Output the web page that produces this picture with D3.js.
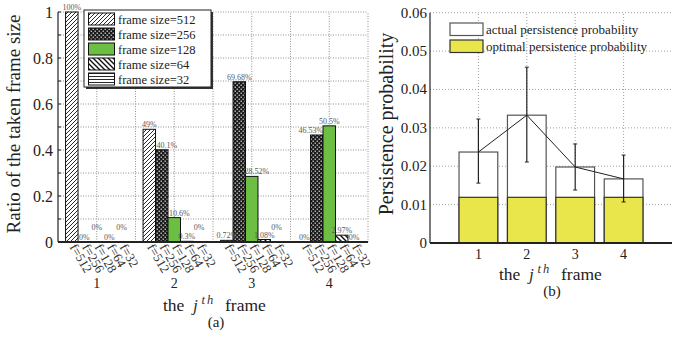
<!DOCTYPE html>
<html><head><meta charset="utf-8">
<script src="https://cdn.jsdelivr.net/npm/d3@7"></script>
<style>body{margin:0;background:#fff}svg{display:block}</style>
</head><body><svg id="c" width="683" height="337" font-family="'Liberation Serif', 'Times New Roman', serif"></svg>
<script>
// ---------- data, panel (a) ----------
const groups = [1, 2, 3, 4];
const sizes = ["512", "256", "128", "64", "32"];
const tickNames = ["f=512", "f=256", "f=128", "f=64", "f=32"];
const ratio512 = [1.00, 0.49, 0.0072, 0.00];
const ratio256 = [0.00, 0.401, 0.6968, 0.4653];
const ratio128 = [0.00, 0.106, 0.2852, 0.505];
const ratio64  = [0.00, 0.003, 0.0108, 0.0297];
const ratio32  = [0.00, 0.00, 0.00, 0.00];
const ratioLabels = [
  ["100%", "0%", "0%", "0%", "0%"],
  ["49%", "40.1%", "10.6%", "0.3%", "0%"],
  ["0.72%", "69.68%", "28.52%", "1.08%", "0%"],
  ["0%", "46.53%", "50.5%", "2.97%", "0%"]
];
const yTicksA = [0, 0.2, 0.4, 0.6, 0.8, 1];
// ---------- data, panel (b) ----------
const frames = [1, 2, 3, 4];
const actualProb = [0.0237, 0.0333, 0.0198, 0.0167];
const optimalProb = [0.0119, 0.0119, 0.0119, 0.0119];
const errLow = [0.0156, 0.0211, 0.0138, 0.0107];
const errHigh = [0.0323, 0.0458, 0.0258, 0.0229];
const yTicksB = [0, 0.01, 0.02, 0.03, 0.04, 0.05, 0.06];

const svg = d3.select("#c");
const defs = svg.append("defs");
function pat(id, w, h, draw) {
  const p = defs.append("pattern").attr("id", id).attr("patternUnits", "userSpaceOnUse")
    .attr("width", w).attr("height", h);
  p.append("rect").attr("width", w).attr("height", h).attr("fill", "#fff");
  draw(p);
}
pat("p512", 4, 4, p => {
  p.append("path").attr("d", "M-1,1 L1,-1 M0,4 L4,0 M3,5 L5,3").attr("stroke", "#111").attr("stroke-width", 0.9);
});
pat("p256", 4, 4, p => {
  p.append("rect").attr("width", 4).attr("height", 4).attr("fill", "#1a1a1a");
  p.append("rect").attr("x", 0.6).attr("y", 0.6).attr("width", 1.2).attr("height", 1.2).attr("fill", "#fff");
  p.append("rect").attr("x", 2.6).attr("y", 2.6).attr("width", 1.2).attr("height", 1.2).attr("fill", "#fff");
});
pat("p64", 5, 5, p => {
  p.append("path").attr("d", "M-1,4 L1,6 M0,0 L5,5 M4,-1 L6,1").attr("stroke", "#111").attr("stroke-width", 1.4);
});
pat("p32", 4, 3, p => {
  p.append("path").attr("d", "M0,1.5 L4,1.5").attr("stroke", "#111").attr("stroke-width", 0.9);
});
const fills = ["url(#p512)", "url(#p256)", "#6cbf42", "url(#p64)", "url(#p32)"];
const seriesA = [ratio512, ratio256, ratio128, ratio64, ratio32];

// ---------- panel (a) ----------
const xA = d3.scaleLinear().domain([0.5, 4.5]).range([58, 368]);
const yA = d3.scaleLinear().domain([0, 1]).range([242, 12]);
const barU = 0.161;
const gA = svg.append("g");
gA.selectAll(".hg").data(d3.range(1, 11).map(d => d / 10)).join("line")
  .attr("x1", xA(0.5)).attr("x2", xA(4.5)).attr("y1", d => yA(d)).attr("y2", d => yA(d))
  .attr("stroke", "#777").attr("stroke-width", 0.8).attr("stroke-dasharray", "1,1.5");
gA.selectAll(".vg").data(d3.range(1, 9).map(d => 0.5 + d / 2)).join("line")
  .attr("x1", d => xA(d)).attr("x2", d => xA(d)).attr("y1", yA(0)).attr("y2", yA(1))
  .attr("stroke", "#777").attr("stroke-width", 0.8).attr("stroke-dasharray", "1,1.5");
const barDataA = [];
groups.forEach((g, gi) => sizes.forEach((s, si) => {
  barDataA.push({g, gi, si, v: seriesA[si][gi], lab: ratioLabels[gi][si],
    prev: si > 0 ? seriesA[si - 1][gi] : 1, next: si < 4 ? seriesA[si + 1][gi] : 0});
}));
const bx = d => xA(d.g + (d.si - 2.5) * barU);
gA.selectAll(".bar").data(barDataA.filter(d => d.v > 0)).join("rect")
  .attr("x", bx).attr("width", xA(barU) - xA(0)).attr("y", d => yA(d.v)).attr("height", d => yA(0) - yA(d.v))
  .attr("fill", d => fills[d.si]).attr("stroke", "#111").attr("stroke-width", 1);
gA.selectAll(".vl").data(barDataA).join("text")
  .attr("x", d => {
    let dx = 0;
    if (d.v > 0.05 && d.si > 0 && d.prev > d.v) dx = 5;
    else if (d.v > 0.05 && d.next > d.v) dx = -6;
    return xA(d.g + (d.si - 2) * barU) + dx;
  })
  .attr("y", d => {
    const small = d.v < 0.05;
    const raise = small && d.si % 2 === 0 && d.si > 0 && d.prev < 0.02;
    return yA(d.v) - (raise ? 12.5 : 2);
  })
  .attr("text-anchor", "middle").attr("font-size", 8).attr("fill", "#5a5a5a").text(d => d.lab);
gA.append("line").attr("x1", xA(0.5)).attr("x2", xA(4.5)).attr("y1", yA(0)).attr("y2", yA(0)).attr("stroke", "#222").attr("stroke-width", 2);
gA.append("line").attr("x1", xA(0.5)).attr("x2", xA(0.5)).attr("y1", yA(0)).attr("y2", yA(1)).attr("stroke", "#222").attr("stroke-width", 1.2);
gA.selectAll(".yt").data(d3.range(0, 11).map(d => d / 10)).join("line")
  .attr("x1", xA(0.5)).attr("x2", xA(0.5) + 3).attr("y1", d => yA(d)).attr("y2", d => yA(d)).attr("stroke", "#222");
gA.selectAll(".ytl").data(yTicksA).join("text")
  .attr("x", 53).attr("y", d => yA(d) + 5.5).attr("text-anchor", "end").attr("font-size", 16).attr("fill", "#222")
  .text(d => d3.format("")(d));
const tickData = [];
groups.forEach(g => tickNames.forEach((t, si) => tickData.push({g, si, t})));
gA.selectAll(".tn").data(tickData).join("text")
  .attr("transform", d => `translate(${xA(d.g + (d.si - 2) * barU) - 2.5},${yA(0) + 5}) rotate(60)`)
  .attr("font-size", 13).attr("fill", "#333").text(d => d.t);
gA.selectAll(".gl").data(groups).join("text")
  .attr("x", d => xA(d)).attr("y", 288).attr("text-anchor", "middle").attr("font-size", 14).attr("fill", "#222").text(d => d);
function jthTitle(g, x0, y) {
  g.append("text").attr("x", x0).attr("y", y).attr("font-size", 17.5).attr("fill", "#222").text("the");
  g.append("text").attr("x", x0 + 30).attr("y", y).attr("font-size", 17.5).attr("font-style", "italic").attr("fill", "#333").text("j");
  g.append("text").attr("x", x0 + 38.5).attr("y", y - 7).attr("font-size", 12.5).attr("font-style", "italic")
    .attr("letter-spacing", 2).attr("fill", "#333").text("th");
  g.append("text").attr("x", x0 + 62).attr("y", y).attr("font-size", 17.5).attr("fill", "#222").text("frame");
}
jthTitle(gA, 163, 311);
gA.append("text").attr("x", 216).attr("y", 327).attr("text-anchor", "middle").attr("font-size", 15).attr("fill", "#222").text("(a)");
gA.append("text").attr("transform", "translate(20,124) rotate(-90)").attr("text-anchor", "middle")
  .attr("font-size", 19).attr("fill", "#222").text("Ratio of the taken frame size");
const lg = gA.append("g");
lg.append("rect").attr("x", 86).attr("y", 12).attr("width", 127).attr("height", 77).attr("fill", "#333");
lg.append("rect").attr("x", 84).attr("y", 10).attr("width", 127).attr("height", 77).attr("fill", "#fff").attr("stroke", "#222").attr("stroke-width", 1);
sizes.forEach((s, i) => {
  lg.append("rect").attr("x", 88.5).attr("y", 13 + i * 15).attr("width", 26).attr("height", 12)
    .attr("fill", fills[i]).attr("stroke", "#111").attr("stroke-width", 1);
  lg.append("text").attr("x", 118).attr("y", 23.5 + i * 15).attr("font-size", 12.5).attr("fill", "#222").text("frame size=" + s);
});

// ---------- panel (b) ----------
const xB = d3.scaleLinear().domain([0, 5]).range([430, 672]);
const yB = d3.scaleLinear().domain([0, 0.06]).range([243, 12.7]);
const gB = svg.append("g");
gB.selectAll(".hg").data(yTicksB.slice(1)).join("line")
  .attr("x1", xB(0)).attr("x2", xB(5)).attr("y1", d => yB(d)).attr("y2", d => yB(d))
  .attr("stroke", "#888").attr("stroke-width", 0.8).attr("stroke-dasharray", "1,2");
gB.selectAll(".vg").data(frames).join("line")
  .attr("x1", d => xB(d)).attr("x2", d => xB(d)).attr("y1", yB(0)).attr("y2", yB(0.06))
  .attr("stroke", "#888").attr("stroke-width", 0.8).attr("stroke-dasharray", "1,2");
const bw = 0.8;
gB.selectAll(".ab").data(frames).join("rect")
  .attr("x", (d) => xB(d - bw / 2)).attr("width", xB(bw) - xB(0))
  .attr("y", (d, i) => yB(actualProb[i])).attr("height", (d, i) => yB(0) - yB(actualProb[i]))
  .attr("fill", "#fff").attr("stroke", "#555").attr("stroke-width", 1.2);
gB.selectAll(".ob").data(frames).join("rect")
  .attr("x", (d) => xB(d - bw / 2)).attr("width", xB(bw) - xB(0))
  .attr("y", (d, i) => yB(optimalProb[i])).attr("height", (d, i) => yB(0) - yB(optimalProb[i]))
  .attr("fill", "#e9e64c").attr("stroke", "#333").attr("stroke-width", 1.2);
gB.append("path").datum(frames)
  .attr("d", d3.line().x(d => xB(d)).y((d, i) => yB(actualProb[i])))
  .attr("fill", "none").attr("stroke", "#222").attr("stroke-width", 1);
frames.forEach((f, i) => {
  gB.append("line").attr("x1", xB(f)).attr("x2", xB(f)).attr("y1", yB(errLow[i])).attr("y2", yB(errHigh[i])).attr("stroke", "#222").attr("stroke-width", 1.2);
  [errLow[i], errHigh[i]].forEach(v => gB.append("line").attr("x1", xB(f) - 2).attr("x2", xB(f) + 2)
    .attr("y1", yB(v)).attr("y2", yB(v)).attr("stroke", "#222").attr("stroke-width", 1));
});
gB.append("line").attr("x1", xB(0)).attr("x2", xB(5)).attr("y1", yB(0)).attr("y2", yB(0)).attr("stroke", "#222").attr("stroke-width", 2);
gB.append("line").attr("x1", xB(0)).attr("x2", xB(0)).attr("y1", yB(0)).attr("y2", yB(0.06)).attr("stroke", "#222").attr("stroke-width", 1.2);
gB.selectAll(".ytl").data(yTicksB).join("text")
  .attr("x", 427).attr("y", d => yB(d) + 5).attr("text-anchor", "end").attr("font-size", 15).attr("fill", "#222")
  .text(d => d === 0 ? "0" : d3.format(".2f")(d));
gB.selectAll(".xtl").data(frames).join("text")
  .attr("x", d => xB(d)).attr("y", 259).attr("text-anchor", "middle").attr("font-size", 14).attr("fill", "#222").text(d => d);
jthTitle(gB, 499, 280);
gB.append("text").attr("x", 552).attr("y", 296).attr("text-anchor", "middle").attr("font-size", 15).attr("fill", "#222").text("(b)");
gB.append("text").attr("transform", "translate(393,124) rotate(-90)").attr("text-anchor", "middle")
  .attr("font-size", 20).attr("fill", "#222").text("Persistence probability");
const legB = [["actual persistence probability", "#fff", "#555"], ["optimal persistence probability", "#e9e64c", "#333"]];
legB.forEach((l, i) => {
  gB.append("rect").attr("x", 450).attr("y", 23 + i * 17).attr("width", 33).attr("height", 12.5)
    .attr("fill", l[1]).attr("stroke", l[2]).attr("stroke-width", 1.2);
  gB.append("text").attr("x", 486).attr("y", 33.5 + i * 17).attr("font-size", 13).attr("fill", "#222").text(l[0]);
});
</script></body></html>
